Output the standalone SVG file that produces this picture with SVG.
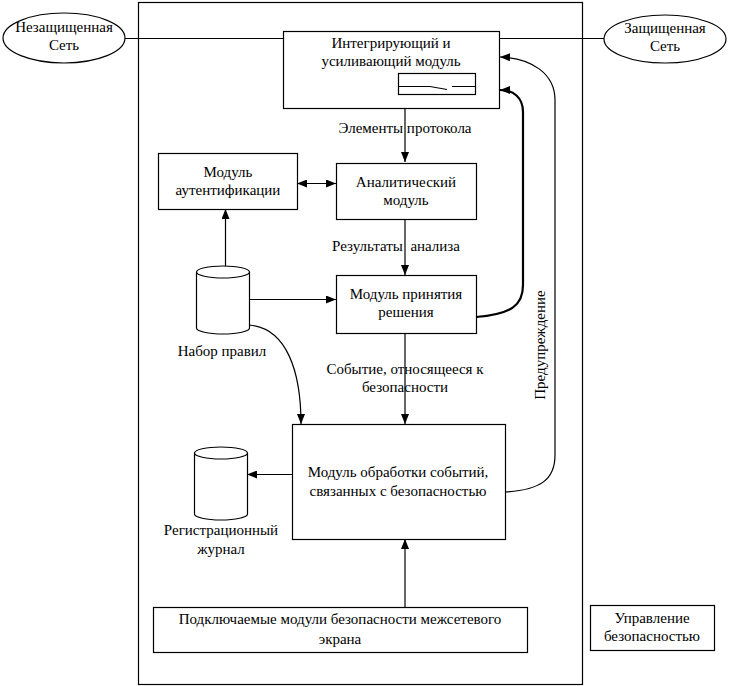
<svg xmlns="http://www.w3.org/2000/svg" width="729" height="686" viewBox="0 0 729 686">
<defs>
<style>
text{font-family:"Liberation Serif","Times New Roman",serif;font-size:15px;fill:#000;text-anchor:middle;white-space:pre}
.b{fill:#fff;stroke:#000;stroke-width:1.2}
.l{fill:none;stroke:#000;stroke-width:1.2}
.t{fill:none;stroke:#000;stroke-width:2.2}
</style>
<marker id="a" viewBox="0 0 10 8" refX="10" refY="4" markerWidth="10" markerHeight="8" markerUnits="userSpaceOnUse" orient="auto-start-reverse"><path d="M0,0L10,4L0,8z" fill="#000"/></marker>
</defs>
<rect width="729" height="686" fill="#fff"/>
<rect id="frame" x="138.5" y="2.5" width="444" height="682" class="l"/>
<g id="connectors">
<line x1="125" y1="38.5" x2="283" y2="38.5" class="l"/>
<line x1="500" y1="38.5" x2="604" y2="38.5" class="l"/>
<line x1="405" y1="108" x2="405" y2="162" class="l" marker-end="url(#a)"/>
<line x1="297" y1="183.5" x2="336" y2="183.5" class="l" marker-start="url(#a)" marker-end="url(#a)"/>
<line x1="405" y1="219" x2="405" y2="275" class="l" marker-end="url(#a)"/>
<line x1="225.5" y1="266" x2="225.5" y2="209" class="l" marker-end="url(#a)"/>
<line x1="249" y1="299.5" x2="336" y2="299.5" class="l" marker-end="url(#a)"/>
<path d="M249,325 C287,328 301,372 301,424" class="l" marker-end="url(#a)"/>
<line x1="405" y1="333" x2="405" y2="424" class="l" marker-end="url(#a)"/>
<line x1="292" y1="474.5" x2="247" y2="474.5" class="l" marker-end="url(#a)"/>
<line x1="405" y1="607" x2="405" y2="539" class="l" marker-end="url(#a)"/>
<path d="M476,317 C512,314 523,305 523,285 L523,112 C523,98 514,90 500,90" class="t" marker-end="url(#a)"/>
<path d="M505,492 C540,490 555,480 555,455 L555,100 C555,74 532,58 500,57" class="l" marker-end="url(#a)"/>
</g>
<g id="unsecured"><ellipse cx="64" cy="38" rx="61" ry="25" class="b"/><text x="64" y="32">Незащищенная</text><text x="64" y="50">Сеть</text></g>
<g id="secured"><ellipse cx="665" cy="39" rx="61" ry="24" class="b"/><text x="665" y="33">Защищенная</text><text x="665" y="51">Сеть</text></g>
<g id="integrating"><rect x="283.5" y="31.5" width="216" height="77" class="b"/><text x="391" y="48">Интегрирующий и</text><text x="391" y="66">усиливающий модуль</text>
<rect x="398.5" y="73.5" width="77" height="21" class="b"/><path d="M398,86.5H430L447,89.5M452,86.5H476" class="l"/></g>
<text x="405" y="133">Элементы протокола</text>
<g id="auth"><rect x="158.5" y="153.5" width="139" height="56" class="b"/><text x="228" y="177">Модуль</text><text x="228" y="195">аутентификации</text></g>
<g id="analytic"><rect x="336.5" y="163.5" width="140" height="56" class="b"/><text x="406" y="187">Аналитический</text><text x="406" y="205">модуль</text></g>
<text x="396" y="251">Результаты  анализа</text>
<g id="decision"><rect x="336.5" y="275.5" width="140" height="58" class="b"/><text x="406" y="299">Модуль принятия</text><text x="406" y="317">решения</text></g>
<g id="rules"><path d="M196.5,272 V328 A26.5,6 0 0 0 249.5,328 V272" class="b"/><ellipse cx="223" cy="272" rx="26.5" ry="6" class="b"/><text x="222" y="356">Набор правил</text></g>
<text x="405" y="374">Событие, относящееся к</text><text x="405" y="392">безопасности</text>
<g id="events"><rect x="292.5" y="424.5" width="213" height="115" class="b"/><text x="398" y="477">Модуль обработки событий,</text><text x="398" y="496">связанных с безопасностью</text></g>
<g id="log"><path d="M194.5,453 V514 A26.5,6 0 0 0 247.5,514 V453" class="b"/><ellipse cx="221" cy="453" rx="26.5" ry="6" class="b"/><text x="221" y="535">Регистрационный</text><text x="221" y="554">журнал</text></g>
<g id="plugins"><rect x="153.5" y="607.5" width="374" height="45" class="b"/><text x="340" y="624">Подключаемые модули безопасности межсетевого</text><text x="340" y="644">экрана</text></g>
<g id="mgmt"><rect x="590.5" y="605.5" width="124" height="45" class="b"/><text x="652" y="623">Управление</text><text x="652" y="641">безопасностью</text></g>
<text transform="translate(545,345) rotate(-90)">Предупреждение</text>
</svg>
